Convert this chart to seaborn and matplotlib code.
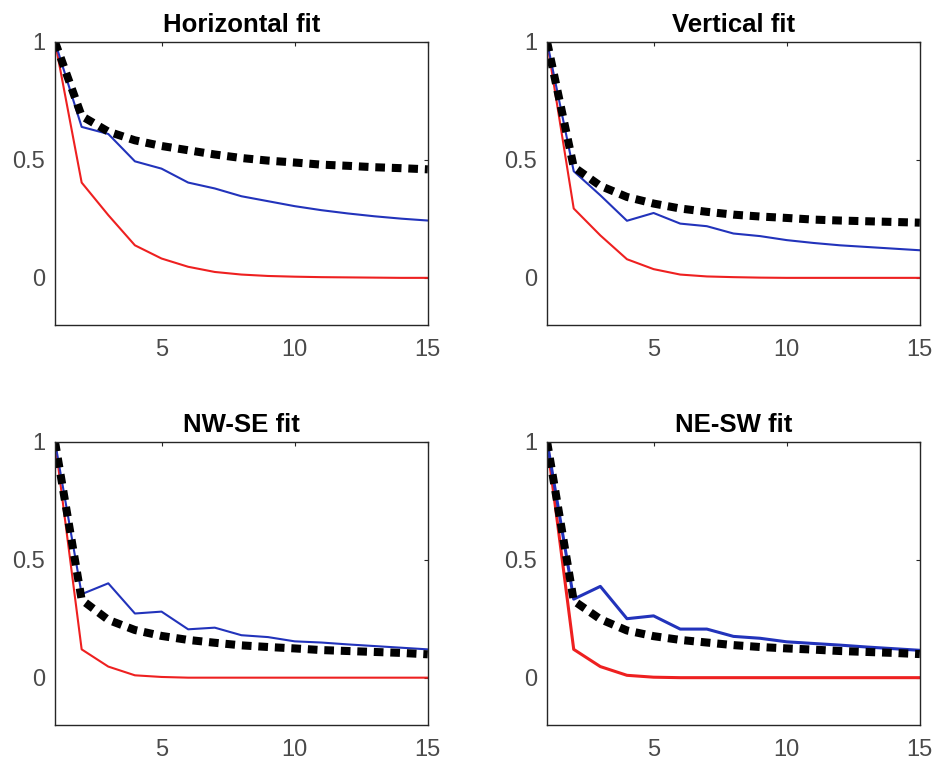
import numpy as np
import pandas as pd
import matplotlib
matplotlib.use("Agg")
import matplotlib.pyplot as plt
import seaborn as sns

lags = list(range(1, 16))
titles = ["Horizontal fit", "Vertical fit", "NW-SE fit", "NE-SW fit"]

# blue: measured correlation, red: model A, black dotted: model B
horiz_blue = [1, 0.64, 0.61, 0.494, 0.463, 0.404, 0.379, 0.346, 0.325, 0.304, 0.287, 0.273, 0.261, 0.251, 0.243]
horiz_red = [1, 0.404, 0.266, 0.138, 0.082, 0.047, 0.025, 0.014, 0.008, 0.005, 0.003, 0.002, 0.001, 0.0, 0.0]
horiz_black = [1, 0.686, 0.62, 0.583, 0.559, 0.541, 0.523, 0.508, 0.497, 0.489, 0.48, 0.475, 0.469, 0.465, 0.46]

vert_blue = [1, 0.452, 0.35, 0.242, 0.275, 0.23, 0.219, 0.188, 0.177, 0.16, 0.148, 0.138, 0.131, 0.124, 0.117]
vert_red = [1, 0.294, 0.18, 0.079, 0.037, 0.014, 0.006, 0.003, 0.001, 0.0, 0.0, 0.0, 0.0, 0.0, 0.0]
vert_black = [1, 0.47, 0.39, 0.343, 0.315, 0.294, 0.28, 0.268, 0.26, 0.254, 0.247, 0.243, 0.24, 0.237, 0.234]

nwse_blue = [1, 0.354, 0.40, 0.272, 0.28, 0.205, 0.212, 0.18, 0.172, 0.154, 0.149, 0.141, 0.134, 0.127, 0.12]
nwse_red = [1, 0.12, 0.047, 0.01, 0.003, 0.0, 0.0, 0.0, 0.0, 0.0, 0.0, 0.0, 0.0, 0.0, 0.0]
nwse_black = [1, 0.33, 0.245, 0.202, 0.177, 0.16, 0.148, 0.137, 0.13, 0.124, 0.117, 0.113, 0.109, 0.105, 0.099]

nesw_blue = [1, 0.333, 0.387, 0.25, 0.262, 0.206, 0.206, 0.175, 0.167, 0.152, 0.145, 0.138, 0.13, 0.123, 0.116]
nesw_red = [1, 0.12, 0.047, 0.01, 0.002, 0.0, 0.0, 0.0, 0.0, 0.0, 0.0, 0.0, 0.0, 0.0, 0.0]
nesw_black = [1, 0.326, 0.248, 0.2, 0.176, 0.16, 0.149, 0.138, 0.13, 0.124, 0.119, 0.113, 0.109, 0.105, 0.1]

panels = [
    (horiz_blue, horiz_red, horiz_black),
    (vert_blue, vert_red, vert_black),
    (nwse_blue, nwse_red, nwse_black),
    (nesw_blue, nesw_red, nesw_black),
]

sns.set_style("white")
plt.rcParams['font.family'] = ['Liberation Sans', 'DejaVu Sans']

fig = plt.figure(figsize=(9.36, 7.63), dpi=100)
lefts = [0.0588, 0.5845]
bottoms = [0.574, 0.050]
w, h = 0.3982, 0.371

for i, (blue, red, black) in enumerate(panels):
    ax = fig.add_axes([lefts[i % 2], bottoms[i // 2], w, h])
    lw = 2.2 if i == 3 else 1.5
    sns.lineplot(x=lags, y=red, ax=ax, color="#ee2020", lw=lw)
    sns.lineplot(x=lags, y=blue, ax=ax, color="#2233bb", lw=lw)
    sns.lineplot(x=lags, y=black, ax=ax, color="black", lw=5.8,
                 linestyle=(0, (1.2, 0.85)), dash_capstyle="butt")
    ax.set_xlim(1, 15)
    ax.set_ylim(-0.2, 1)
    ax.set_xticks([5, 10, 15])
    ax.set_yticks([0, 0.5, 1])
    ax.set_yticklabels(["0", "0.5", "1"])
    ax.tick_params(direction="in", length=3, width=0.8, top=True, right=True,
                   labelsize=17, labelcolor="#4a4a4a", color="#262626")
    ax.tick_params(axis="x", pad=10)
    ax.tick_params(axis="y", pad=7)
    for s in ax.spines.values():
        s.set_color("#262626")
        s.set_linewidth(1.0)
    ax.set_title(titles[i], fontsize=18.5, fontweight="bold", pad=7, color="black")
    ax.set_xlabel("")
    ax.set_ylabel("")

fig.savefig("out.png", dpi=100)
